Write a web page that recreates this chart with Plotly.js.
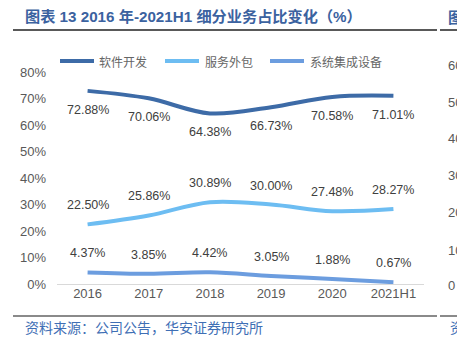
<!DOCTYPE html>
<html><head><meta charset="utf-8">
<script src="https://cdn.plot.ly/plotly-3.0.1.min.js"></script>
<style>html,body{margin:0;padding:0;background:#fff;}#chart{width:457px;height:341px;}</style>
</head><body><div id="chart"></div>
<script>
const categories = ['2016','2017','2018','2019','2020','2021H1'];
const software = [72.88, 70.06, 64.38, 66.73, 70.58, 71.01];
const outsourcing = [22.50, 25.86, 30.89, 30.00, 27.48, 28.27];
const integration = [4.37, 3.85, 4.42, 3.05, 1.88, 0.67];
const seriesNames = ['软件开发','服务外包','系统集成设备'];
const yTicks = [0,10,20,30,40,50,60,70,80];
const rightTicks = ['60','50','40','30','20','10','0'];

const colors = ['#3d6ba7','#6dbdf2','#6c9ddf'];
const W=457,H=341,L=57,R=33,T=72,B=57;
const pw=W-L-R, ph=H-T-B;
const px = x => (x-L)/pw;
const py = y => (H-B-y)/ph;

const data = [software, outsourcing, integration].map((v,i)=>({
  x: categories, y: v, type:'scatter', mode:'lines', name: seriesNames[i],
  line:{color:colors[i], width:4, shape:'spline', smoothing:1},
  showlegend:false, hoverinfo:'skip'
}));

const annotations = [];
const shifts = [-19, 19, 19];
[software, outsourcing, integration].forEach((v,i)=>{
  v.forEach((val,j)=>{
    annotations.push({x:j, y:val, xref:'x', yref:'y', text: val.toFixed(2)+'%',
      showarrow:false, yshift:shifts[i], font:{family:'Liberation Sans, Arial, sans-serif', size:12.5, color:'#404040'}});
  });
});

const shapes = [
  {type:'line', xref:'paper', yref:'paper', x0:px(13), x1:px(437), y0:py(30), y1:py(30), line:{color:'#222', width:1.5}},
  {type:'line', xref:'paper', yref:'paper', x0:px(440), x1:px(458), y0:py(30), y1:py(30), line:{color:'#222', width:1.5}},
  {type:'line', xref:'paper', yref:'paper', x0:px(13), x1:px(437), y0:py(316), y1:py(316), line:{color:'#8a8a8a', width:2}},
  {type:'line', xref:'paper', yref:'paper', x0:px(440), x1:px(458), y0:py(316), y1:py(316), line:{color:'#8a8a8a', width:2}}
];

const legendX = [[60,94,97],[165,199,203],[270,304,308]];
seriesNames.forEach((n,i)=>{
  shapes.push({type:'line', xref:'paper', yref:'paper', x0:px(legendX[i][0]), x1:px(legendX[i][1]), y0:py(61), y1:py(61), line:{color:colors[i], width:4}});
  annotations.push({xref:'paper', yref:'paper', x:px(legendX[i][2]), y:py(61), xanchor:'left', yanchor:'middle', text:n, showarrow:false,
    font:{family:'Noto Sans CJK SC, sans-serif', size:12, color:'#666'}});
});

annotations.push({xref:'paper', yref:'paper', x:px(23), y:py(17), xanchor:'left', yanchor:'middle', showarrow:false,
  text:'<b>图表 13 2016 年-2021H1 细分业务占比变化（%）</b>',
  font:{family:'Liberation Sans, Noto Sans CJK SC, sans-serif', size:15.2, color:'#3b62a0'}});
annotations.push({xref:'paper', yref:'paper', x:px(23), y:py(327), xanchor:'left', yanchor:'middle', showarrow:false,
  text:'资料来源：公司公告，华安证券研究所',
  font:{family:'Noto Sans CJK SC, sans-serif', size:14, color:'#3f6fb5'}});
annotations.push({xref:'paper', yref:'paper', x:px(446), y:py(17), xanchor:'left', yanchor:'middle', showarrow:false,
  text:'<b>图</b>', font:{family:'Noto Sans CJK SC, sans-serif', size:15, color:'#3b62a0'}});
annotations.push({xref:'paper', yref:'paper', x:px(448), y:py(327), xanchor:'left', yanchor:'middle', showarrow:false,
  text:'资', font:{family:'Noto Sans CJK SC, sans-serif', size:14, color:'#3f6fb5'}});
const rightY = [65,102,138,175,212,250,285];
rightTicks.forEach((t,i)=>{
  annotations.push({xref:'paper', yref:'paper', x:px(446), y:py(rightY[i]), xanchor:'left', yanchor:'middle', showarrow:false,
    text:t, font:{family:'Liberation Sans, Arial, sans-serif', size:13, color:'#595959'}});
});

const layout = {
  width:W, height:H, margin:{l:L, r:R, t:T, b:B}, paper_bgcolor:'#fff', plot_bgcolor:'#fff',
  showlegend:false,
  xaxis:{type:'category', range:[-0.5,5.5], showgrid:false, zeroline:false, showline:false, ticks:'',
    tickfont:{family:'Liberation Sans, Arial, sans-serif', size:13, color:'#595959'}, fixedrange:true},
  yaxis:{range:[0,80], tickvals:yTicks, ticktext:yTicks.map(v=>v+'%'), showgrid:false, zeroline:true, zerolinecolor:'#d9d9d9', zerolinewidth:1,
    showline:false, ticks:'', ticklabelstandoff:10,
    tickfont:{family:'Liberation Sans, Arial, sans-serif', size:13, color:'#595959'}, fixedrange:true},
  shapes, annotations
};
Plotly.newPlot('chart', data, layout, {displayModeBar:false, staticPlot:true});
</script></body></html>
